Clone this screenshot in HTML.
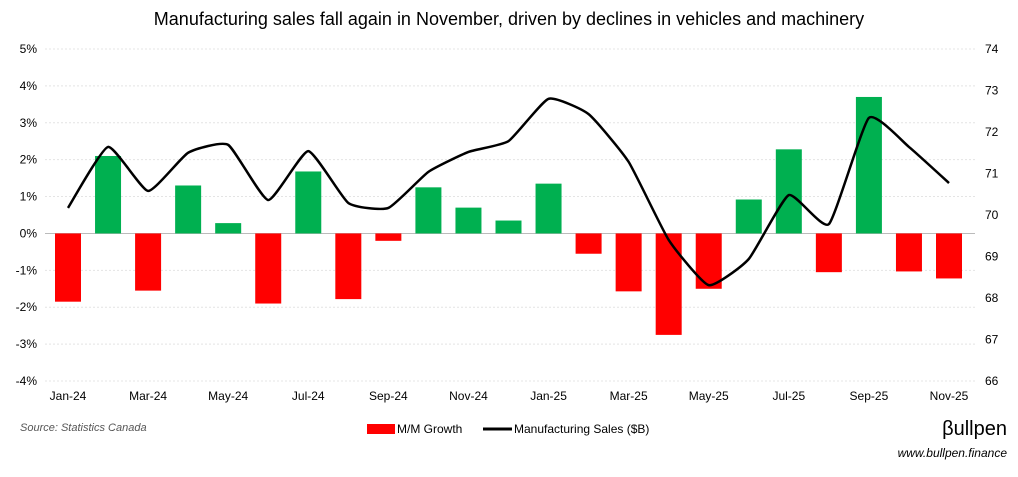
<!DOCTYPE html>
<html><head><meta charset="utf-8"><style>
body{margin:0;background:#fff;}
svg text{font-family:"Liberation Sans Narrow","Liberation Sans",sans-serif;fill:#000;}
</style></head><body>
<svg id="c" width="1018" height="472" xmlns="http://www.w3.org/2000/svg">
<text x="509" y="25" text-anchor="middle" font-size="18">Manufacturing sales fall again in November, driven by declines in vehicles and machinery</text>
<g id="grid"></g><g id="bars"></g><g id="line"></g><g id="axes"></g>
<text x="20" y="431" font-size="11" font-style="italic" style="fill:#555">Source: Statistics Canada</text>
<rect x="367" y="424" width="28" height="10" fill="#ff0000"/>
<text x="397" y="433" font-size="12">M/M Growth</text>
<line x1="483" y1="429" x2="512" y2="429" stroke="#000" stroke-width="3"/>
<text x="514" y="433" font-size="12">Manufacturing Sales ($B)</text>
<text x="1007" y="435" text-anchor="end" font-size="20">βullpen</text>
<text x="1007" y="457" text-anchor="end" font-size="12" font-style="italic">www.bullpen.finance</text>
</svg>
<script>
const months=["Jan-24","Feb-24","Mar-24","Apr-24","May-24","Jun-24","Jul-24","Aug-24","Sep-24","Oct-24","Nov-24","Dec-24","Jan-25","Feb-25","Mar-25","Apr-25","May-25","Jun-25","Jul-25","Aug-25","Sep-25","Oct-25","Nov-25"];
const growth=[-1.85,2.1,-1.55,1.3,0.28,-1.9,1.68,-1.78,-0.2,1.25,0.7,0.35,1.35,-0.55,-1.57,-2.75,-1.5,0.92,2.28,-1.05,3.7,-1.03,-1.22];
const sales=[70.17,71.64,70.58,71.5,71.69,70.36,71.54,70.29,70.17,71.04,71.52,71.78,72.8,72.43,71.28,69.4,68.31,68.94,70.48,69.78,72.34,71.64,70.77];
const leftTicks=[5,4,3,2,1,0,-1,-2,-3,-4];
const rightTicks=[74,73,72,71,70,69,68,67,66];
const NS="http://www.w3.org/2000/svg";
const L=45,R=975,T=49,B=381;
const x=i=>68+i*(949-68)/(months.length-1);
const yL=v=>T+(5-v)*(B-T)/9;
const yR=v=>T+(74-v)*(B-T)/8;
function mk(t,a,p){const e=document.createElementNS(NS,t);for(const k in a)e.setAttribute(k,a[k]);document.getElementById(p).appendChild(e);return e;}
leftTicks.forEach(v=>{
 const g=mk("line",{x1:L,x2:R,y1:yL(v),y2:yL(v),stroke:v==0?"#bbb":"#e4e4e4","stroke-dasharray":v==0?"":"2,2"},"grid");
 
 
 const t=mk("text",{x:L-8,y:yL(v)+4,"text-anchor":"end","font-size":"12"},"axes");t.textContent=v+"%";
 
 
});
rightTicks.forEach(v=>{
 const t=mk("text",{x:R+10,y:yR(v)+4,"font-size":"12"},"axes");t.textContent=v;
 
 
});
months.forEach((m,i)=>{
 if(i%2==0){const t=mk("text",{x:x(i),y:400,"text-anchor":"middle","font-size":"12"},"axes");t.textContent=m;
 
 }
 const v=growth[i];
 const r=mk("rect",{x:x(i)-13,width:26,y:Math.min(yL(v),yL(0)),height:Math.abs(yL(v)-yL(0)),fill:v>=0?"#00b050":"#ff0000"},"bars");
 
 
});
const P=sales.map((v,i)=>[x(i),yR(v)]);
let d="M"+P[0][0]+","+P[0][1];
for(let i=0;i<P.length-1;i++){
 const p0=P[Math.max(0,i-1)],p1=P[i],p2=P[i+1],p3=P[Math.min(P.length-1,i+2)],k=0.08;
 d+=` C${p1[0]+(p2[0]-p0[0])*k},${p1[1]+(p2[1]-p0[1])*k} ${p2[0]-(p3[0]-p1[0])*k},${p2[1]-(p3[1]-p1[1])*k} ${p2[0]},${p2[1]}`;
}
const ln=mk("path",{d:d,fill:"none",stroke:"#000","stroke-width":"2.5","stroke-linejoin":"round"},"line");


</script>
</body></html>
